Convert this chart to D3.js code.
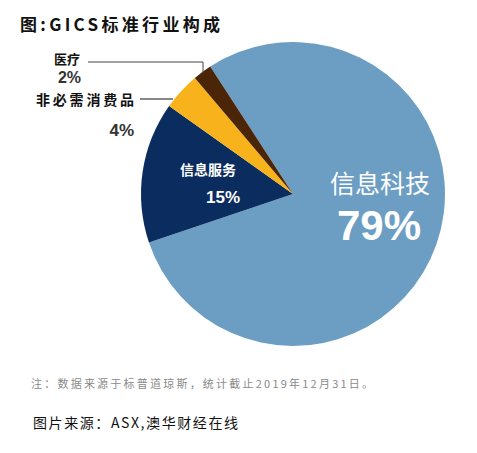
<!DOCTYPE html>
<html>
<head>
<meta charset="utf-8">
<script src="https://cdn.jsdelivr.net/npm/d3@7"></script>
<style>
  body { margin: 0; background: #fff; }
  svg { display: block; }
</style>
</head>
<body>
<svg id="chart" width="477" height="453"></svg>
<script>
// GICS sector mix, values in percent
var sectors = ['信息科技', '信息服务', '非必需消费品', '医疗'];
var shares = [79, 15, 4, 2];
var colors = ['#6c9ec4', '#0b2c5e', '#f7b21c', '#4b2508'];

var svg = d3.select('#chart');
var cx = 293, cy = 194, radius = 152;

var cjk = '"Noto Sans CJK SC", sans-serif';
var latin = '"Liberation Sans", Arial, sans-serif';

// title
svg.append('text')
    .attr('x', 20).attr('y', 31)
    .attr('font-family', cjk)
    .attr('font-weight', 'bold')
    .attr('font-size', 17)
    .attr('textLength', 200)
    .attr('lengthAdjust', 'spacing')
    .attr('fill', '#111')
    .text('图:GICS标准行业构成');

var pie = d3.pie()
    .sort(null)
    .value(function(d) { return d; })
    .startAngle(-33 * Math.PI / 180)
    .endAngle((360 - 33) * Math.PI / 180);

var arc = d3.arc().innerRadius(0).outerRadius(radius);

var g = svg.append('g').attr('transform', 'translate(' + cx + ',' + cy + ')');

var arcs = pie(shares);

g.selectAll('path')
    .data(arcs)
    .enter()
    .append('path')
    .attr('d', arc)
    .attr('fill', function(d, i) { return colors[i]; });

// big slice label
svg.append('text')
    .attr('x', 380).attr('y', 193)
    .attr('text-anchor', 'middle')
    .attr('font-family', cjk)
    .attr('font-size', 25)
    .attr('fill', '#fff')
    .text(sectors[0]);
svg.append('text')
    .attr('x', 379).attr('y', 240)
    .attr('text-anchor', 'middle')
    .attr('font-family', latin)
    .attr('font-weight', 'bold')
    .attr('font-size', 42)
    .attr('fill', '#fff')
    .text(shares[0] + '%');

// navy slice
svg.append('text')
    .attr('x', 208).attr('y', 175)
    .attr('text-anchor', 'middle')
    .attr('font-family', cjk)
    .attr('font-weight', 'bold')
    .attr('font-size', 14)
    .attr('fill', '#fff')
    .text(sectors[1]);
svg.append('text')
    .attr('x', 223).attr('y', 203)
    .attr('text-anchor', 'middle')
    .attr('font-family', latin)
    .attr('font-weight', 'bold')
    .attr('font-size', 17)
    .attr('fill', '#fff')
    .text(shares[1] + '%');

// outside labels with leaders
svg.append('polyline')
    .attr('points', '88,62 203,62 203,73')
    .attr('fill', 'none')
    .attr('stroke', '#444')
    .attr('stroke-width', 1);
svg.append('text')
    .attr('x', 80).attr('y', 64)
    .attr('text-anchor', 'end')
    .attr('font-family', cjk)
    .attr('font-weight', 'bold')
    .attr('font-size', 13)
    .attr('fill', '#111')
    .text(sectors[3]);
svg.append('text')
    .attr('x', 81).attr('y', 83)
    .attr('text-anchor', 'end')
    .attr('font-family', latin)
    .attr('font-weight', 'bold')
    .attr('font-size', 16)
    .attr('fill', '#333')
    .text(shares[3] + '%');

svg.append('line')
    .attr('x1', 140).attr('y1', 99)
    .attr('x2', 173).attr('y2', 99)
    .attr('stroke', '#111')
    .attr('stroke-width', 1);
svg.append('text')
    .attr('x', 134).attr('y', 105)
    .attr('text-anchor', 'end')
    .attr('font-family', cjk)
    .attr('font-weight', 'bold')
    .attr('font-size', 14)
    .attr('textLength', 98)
    .attr('lengthAdjust', 'spacing')
    .attr('fill', '#111')
    .text(sectors[2]);
svg.append('text')
    .attr('x', 134).attr('y', 136)
    .attr('text-anchor', 'end')
    .attr('font-family', latin)
    .attr('font-weight', 'bold')
    .attr('font-size', 17)
    .attr('fill', '#333')
    .text(shares[2] + '%');

// notes
svg.append('text')
    .attr('x', 31).attr('y', 388)
    .attr('font-family', cjk)
    .attr('font-size', 11)
    .attr('textLength', 342)
    .attr('lengthAdjust', 'spacing')
    .attr('fill', '#8a8a8a')
    .text('注：数据来源于标普道琼斯，统计截止2019年12月31日。');
svg.append('text')
    .attr('x', 33).attr('y', 428)
    .attr('font-family', cjk)
    .attr('font-size', 14)
    .attr('textLength', 205)
    .attr('lengthAdjust', 'spacing')
    .attr('fill', '#111')
    .text('图片来源：ASX,澳华财经在线');
</script>
</body>
</html>
